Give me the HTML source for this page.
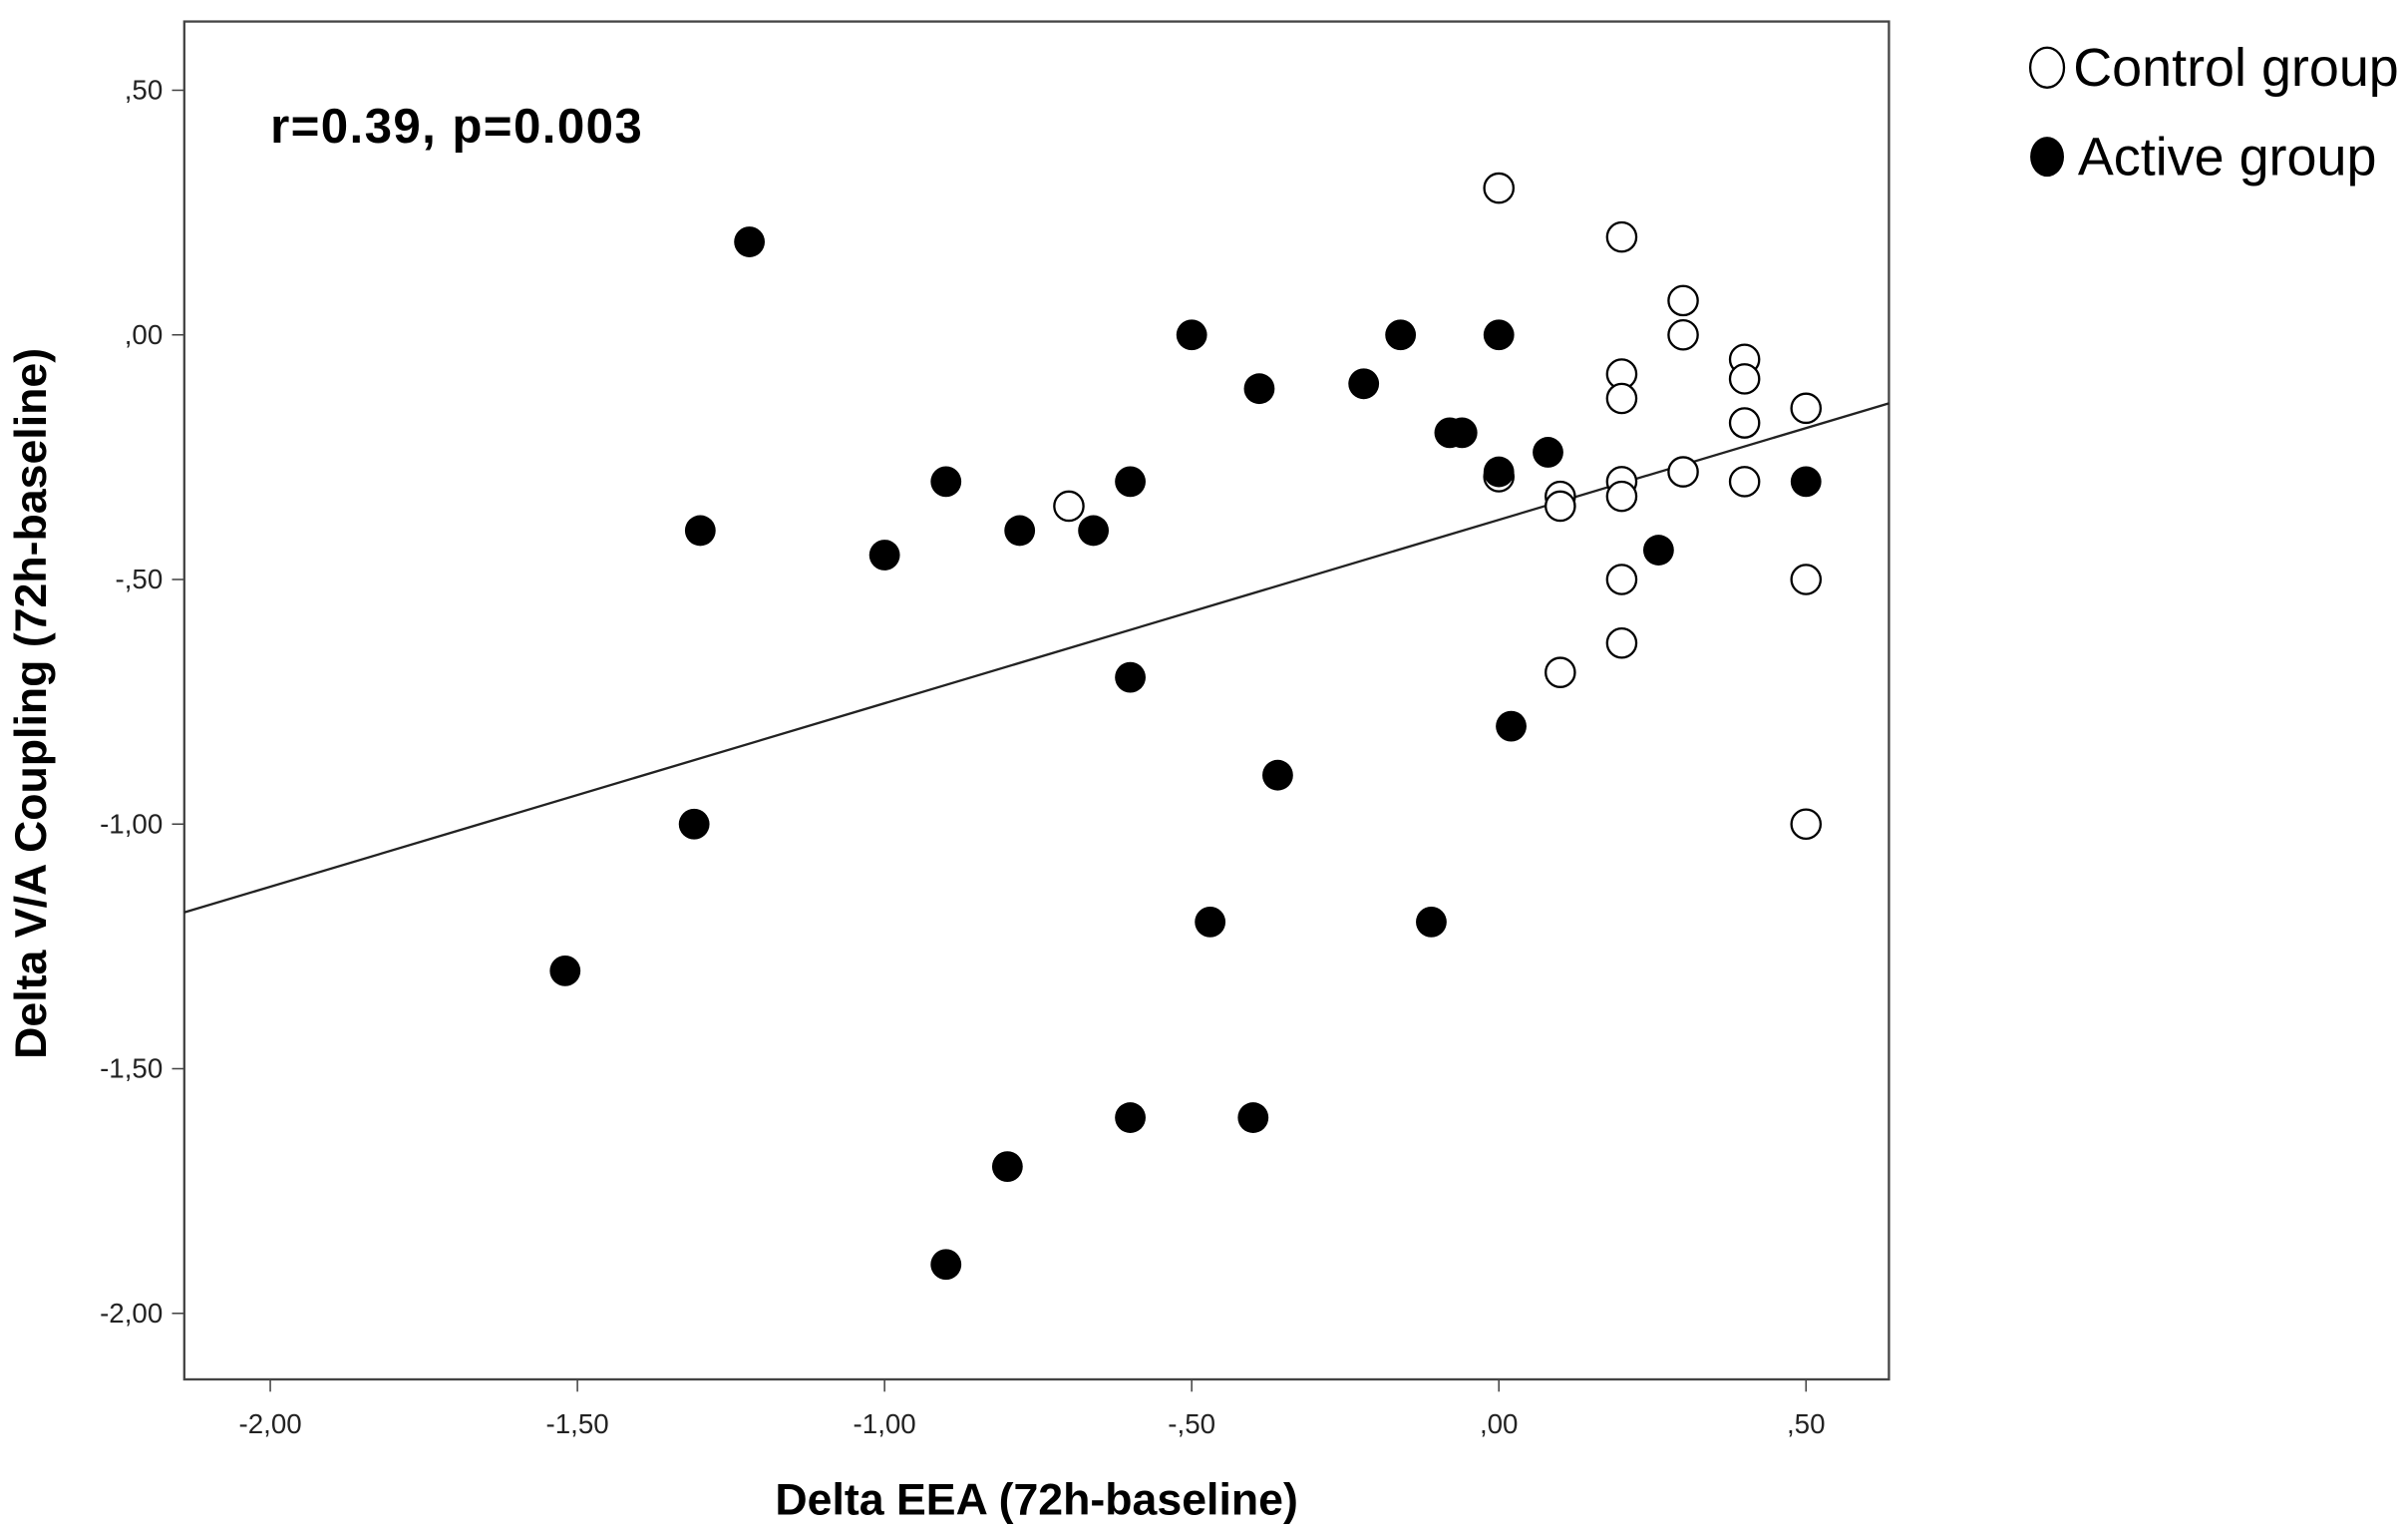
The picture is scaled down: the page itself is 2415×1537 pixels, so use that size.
<!DOCTYPE html>
<html><head><meta charset="utf-8"><style>
html,body{margin:0;padding:0;background:#fff}
svg{display:block}
text{font-family:"Liberation Sans",sans-serif}
</style></head><body>
<svg id="chart" width="2415" height="1537" viewBox="0 0 1568 998" preserveAspectRatio="none" xmlns="http://www.w3.org/2000/svg">
<rect x="120" y="14" width="1110" height="884" fill="#fff" stroke="#444" stroke-width="1.5"/>
<g id="xticks"></g>
<g id="yticks"></g>
<text x="176" y="93" font-size="32" font-weight="bold" textLength="242">r=0.39, p=0.003</text>
<text x="675" y="986" font-size="29" font-weight="bold" text-anchor="middle">Delta EEA (72h-baseline)</text>
<text transform="translate(30,458) rotate(-90)" font-size="29" font-weight="bold" text-anchor="middle">Delta V/A Coupling (72h-baseline)</text>
<g>
<g><ellipse cx="1333" cy="44" rx="11" ry="13" fill="#fff" stroke="#000" stroke-width="1.5"/><text x="1350" y="56" font-size="35">Control group</text></g>
<g><ellipse cx="1333" cy="102" rx="11" ry="13" fill="#000"/><text x="1353" y="114" font-size="35">Active group</text></g>
</g>
<g id="marks"></g>
</svg>
<script>
const xTicks=[-2,-1.5,-1,-0.5,0,0.5];
const xTickLabels=["-2,00","-1,50","-1,00","-,50",",00",",50"];
const yTicks=[0.5,0,-0.5,-1,-1.5,-2];
const yTickLabels=[",50",",00","-,50","-1,00","-1,50","-2,00"];
const controlX=[0,0.2,0.3,0.3,0.4,0.4,0.4,0.4,0.2,0.2,0.2,0.2,0.2,0.2,0.5,0.5,0.5,0.3,0.1,0.1,0.1,0,-0.7];
const controlY=[0.30,0.20,0.07,0.0,-0.05,-0.09,-0.18,-0.30,-0.08,-0.13,-0.30,-0.33,-0.50,-0.63,-0.15,-0.50,-1.00,-0.28,-0.33,-0.35,-0.69,-0.29,-0.35];
const activeX=[-1.22,-0.5,-0.16,0,-0.39,-0.22,-0.08,-0.06,0.08,0,-0.9,-0.6,-1.3,-0.78,-0.66,-1.0,0.26,0.5,-0.6,0.02,-0.36,-1.31,-0.47,-0.11,-1.52,-0.6,-0.4,-0.8,-0.9];
const activeY=[0.19,0,0,0,-0.11,-0.10,-0.20,-0.20,-0.24,-0.28,-0.30,-0.30,-0.40,-0.40,-0.40,-0.45,-0.44,-0.30,-0.70,-0.80,-0.90,-1.00,-1.20,-1.20,-1.30,-1.60,-1.60,-1.70,-1.90];
const fitSlope=[0.375];
const fitIntercept=[-0.378];
const NS="http://www.w3.org/2000/svg";
const X=v=>976+v*400, Y=v=>218-v*318.5;
const XMIN=-2.14, XMAX=0.635;
function mk(t,a,p){const e=document.createElementNS(NS,t);for(const k in a)e.setAttribute(k,a[k]);p.appendChild(e);return e;}
const xg=document.getElementById('xticks'), yg=document.getElementById('yticks'), mg=document.getElementById('marks');
xTicks.forEach((v,i)=>{
 const l=mk('line',{x1:X(v),x2:X(v),y1:898,y2:906,stroke:'#444'},xg);
 
 
 const t=mk('text',{x:X(v),y:933,'font-size':18,'text-anchor':'middle',fill:'#222'},xg);t.textContent=xTickLabels[i];
 
 
});
yTicks.forEach((v,i)=>{
 const l=mk('line',{x1:112,x2:120,y1:Y(v),y2:Y(v),stroke:'#444'},yg);
 
 
 const t=mk('text',{x:106,y:Y(v)+6,'font-size':18,'text-anchor':'end',fill:'#222'},yg);t.textContent=yTickLabels[i];
 
 
});
const fl=mk('line',{x1:X(XMIN),y1:Y(fitIntercept[0]+fitSlope[0]*XMIN),x2:X(XMAX),y2:Y(fitIntercept[0]+fitSlope[0]*XMAX),stroke:'#222','stroke-width':1.5},mg);


controlX.forEach((x,i)=>{
 const c=mk('circle',{cx:X(x),cy:Y(controlY[i]),r:9.5,fill:'#fff',stroke:'#000','stroke-width':1.5},mg);
 
 
});
activeX.forEach((x,i)=>{
 const c=mk('circle',{cx:X(x),cy:Y(activeY[i]),r:10,fill:'#000'},mg);
 
 
});
</script>
</body></html>
